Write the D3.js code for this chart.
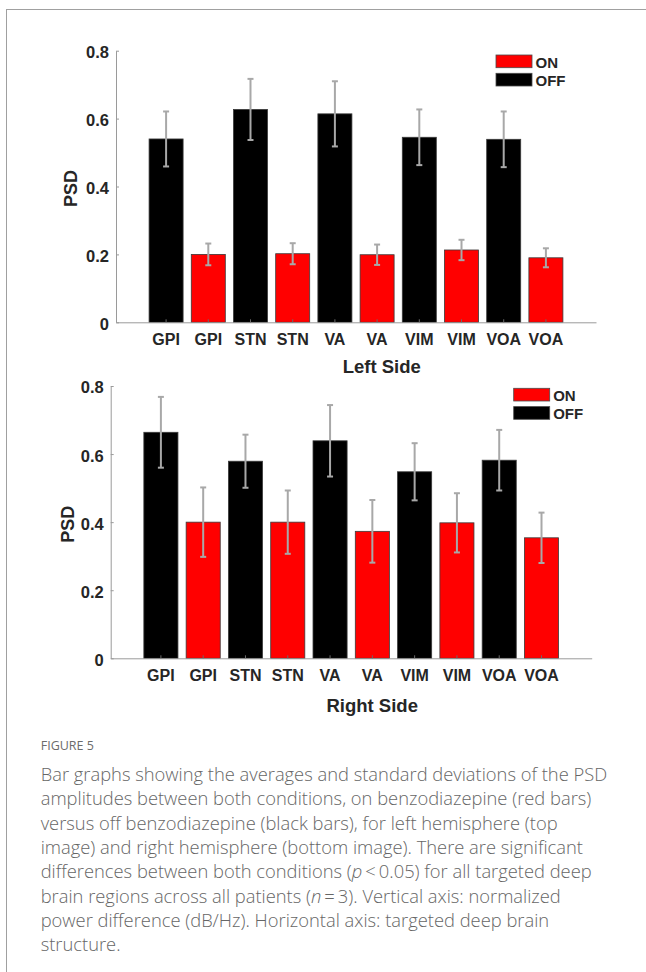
<!DOCTYPE html>
<html>
<head>
<meta charset="utf-8">
<script src="https://cdn.jsdelivr.net/npm/d3@7"></script>
<style>
  html, body { margin: 0; padding: 0; background: #fff; }
  svg { display: block; }
</style>
</head>
<body>
<script>
// ---------------- DATA ----------------
const categories = ["GPI","GPI","STN","STN","VA","VA","VIM","VIM","VOA","VOA"];
const conditions = ["OFF","ON","OFF","ON","OFF","ON","OFF","ON","OFF","ON"];
const leftMean  = [0.540, 0.200, 0.627, 0.202, 0.614, 0.199, 0.545, 0.213, 0.539, 0.190];
const leftSD    = [0.081, 0.032, 0.090, 0.031, 0.096, 0.030, 0.082, 0.030, 0.082, 0.028];
const rightMean = [0.664, 0.400, 0.579, 0.400, 0.639, 0.373, 0.548, 0.398, 0.582, 0.354];
const rightSD   = [0.104, 0.102, 0.078, 0.093, 0.105, 0.092, 0.084, 0.087, 0.089, 0.074];
const yTicks = [0, 0.2, 0.4, 0.6, 0.8];
const yTickLabels = ["0", "0.2", "0.4", "0.6", "0.8"];
const legendLabels = ["ON", "OFF"];
const panelTitles = ["Left Side", "Right Side"];
const yLabel = "PSD";
const figureLabel = "FIGURE 5";
const captionLines = [
  ["Bar graphs showing the averages and standard deviations of the PSD"],
  ["amplitudes between both conditions, on benzodiazepine (red bars)"],
  ["versus off benzodiazepine (black bars), for left hemisphere (top"],
  ["image) and right hemisphere (bottom image). There are significant"],
  ["differences between both conditions (", {i:"p"}, "\u2009<\u20090.05) for all targeted deep"],
  ["brain regions across all patients (", {i:"n"}, "\u2009=\u20093). Vertical axis: normalized"],
  ["power difference (dB/Hz). Horizontal axis: targeted deep brain"],
  ["structure."]
];

// ---------------- STYLE ----------------
const W = 646, H = 972;
const colors = { ON: "#ff0000", OFF: "#000000" };
const chartFont = "'Liberation Sans', Arial, Helvetica, sans-serif";
const textCol = "#262626";
const axisCol = "#9a9a9a";
const errCol = "#a8a8a8";

const svg = d3.select("body").append("svg").attr("width", W).attr("height", H);

// page frame
svg.append("line").attr("x1", 6).attr("x2", W).attr("y1", 9.5).attr("y2", 9.5)
  .attr("stroke", "#a0a0a0").attr("stroke-width", 1);
svg.append("line").attr("x1", 6.5).attr("x2", 6.5).attr("y1", 9).attr("y2", H)
  .attr("stroke", "#a0a0a0").attr("stroke-width", 1);

const panels = [
  { mean: leftMean, sd: leftSD, title: panelTitles[0], x0: 116, x1: 596, y0: 322.3, y1: 50.7,
    titleX: 381.7, titleY: 373.3, ylabX: 77, legX: 496, legY: 55 },
  { mean: rightMean, sd: rightSD, title: panelTitles[1], x0: 110.7, x1: 591.7, y0: 658.3, y1: 386,
    titleX: 372.2, titleY: 712, ylabX: 73.5, legX: 513.7, legY: 388.3 }
];

panels.forEach(p => {
  const g = svg.append("g");
  const x = d3.scaleBand().domain(d3.range(categories.length))
    .range([p.x0, p.x1]).paddingInner(0.194).paddingOuter(0.784);
  const y = d3.scaleLinear().domain([0, 0.8]).range([p.y0, p.y1]);

  // bars
  g.selectAll("rect.bar").data(p.mean).join("rect")
    .attr("class", "bar")
    .attr("x", (d, i) => x(i))
    .attr("width", x.bandwidth())
    .attr("y", d => y(d))
    .attr("height", d => y(0) - y(d))
    .attr("fill", (d, i) => colors[conditions[i]])
    .attr("stroke", "#3a3a3a").attr("stroke-width", 0.8);

  // x axis
  const xAxis = d3.axisBottom(x).tickFormat(i => categories[i])
    .tickSizeInner(-3).tickSizeOuter(0).tickPadding(11);
  const gx = g.append("g").attr("transform", `translate(0,${y(0)})`).call(xAxis);
  gx.select(".domain").attr("stroke", axisCol).attr("stroke-width", 1);
  gx.selectAll(".tick line").attr("stroke", "#6a6a6a");
  gx.selectAll("text").attr("font-family", chartFont).attr("font-weight", "bold")
    .attr("font-size", 16).attr("fill", textCol);

  // y axis
  const yAxis = d3.axisLeft(y).tickValues(yTicks).tickFormat((d, i) => yTickLabels[i])
    .tickSizeInner(-3).tickSizeOuter(0).tickPadding(7);
  const gy = g.append("g").attr("transform", `translate(${p.x0},0)`).call(yAxis);
  gy.select(".domain").attr("stroke", axisCol).attr("stroke-width", 1);
  gy.selectAll(".tick line").attr("stroke", axisCol);
  gy.selectAll("text").attr("font-family", chartFont).attr("font-weight", "bold")
    .attr("font-size", 16.5).attr("fill", textCol).attr("dy", "0.42em");

  // error bars
  const eb = g.selectAll("g.err").data(p.mean).join("g").attr("class", "err");
  const cx = i => x(i) + x.bandwidth() / 2;
  eb.append("line")
    .attr("x1", (d, i) => cx(i)).attr("x2", (d, i) => cx(i))
    .attr("y1", (d, i) => y(d - p.sd[i])).attr("y2", (d, i) => y(d + p.sd[i]))
    .attr("stroke", errCol).attr("stroke-width", 2);
  [-1, 1].forEach(s => {
    eb.append("line")
      .attr("x1", (d, i) => cx(i) - 3).attr("x2", (d, i) => cx(i) + 3)
      .attr("y1", (d, i) => y(d + s * p.sd[i])).attr("y2", (d, i) => y(d + s * p.sd[i]))
      .attr("stroke", errCol).attr("stroke-width", 2);
  });

  // axis labels
  g.append("text").attr("x", p.titleX).attr("y", p.titleY).attr("text-anchor", "middle")
    .attr("font-family", chartFont).attr("font-weight", "bold").attr("font-size", 18.5)
    .attr("fill", textCol).text(p.title);
  const yMid = (p.y0 + p.y1) / 2 + 2;
  g.append("text").attr("transform", `translate(${p.ylabX},${yMid}) rotate(-90)`)
    .attr("text-anchor", "middle")
    .attr("font-family", chartFont).attr("font-weight", "bold").attr("font-size", 18)
    .attr("fill", textCol).text(yLabel);

  // legend
  const leg = g.append("g");
  legendLabels.forEach((lab, k) => {
    const ly = p.legY + k * 18.3;
    leg.append("rect").attr("x", p.legX).attr("y", ly).attr("width", 36).attr("height", 12.7)
      .attr("fill", colors[lab]).attr("stroke", "#4a4a4a").attr("stroke-width", 0.8);
    leg.append("text").attr("x", p.legX + 39.5).attr("y", ly + 12.5)
      .attr("font-family", chartFont).attr("font-weight", "bold").attr("font-size", 15)
      .attr("fill", textCol).text(lab);
  });
});

// ---------------- CAPTION ----------------
const capFont = "'Open Sans', 'Noto Sans', sans-serif";
svg.append("text").attr("x", 40.7).attr("y", 750)
  .attr("font-family", capFont).attr("font-size", 12.5).attr("font-weight", 400)
  .attr("fill", "#6b6b6b").text(figureLabel);

const cap = svg.append("g");
const lineEls = captionLines.map((parts, li) => {
  const t = cap.append("text").attr("x", 40.7).attr("y", 781 + li * 24.3)
    .attr("font-family", capFont).attr("font-weight", 300)
    .attr("fill", "#666666");
  parts.forEach(pt => {
    if (typeof pt === "string") t.append("tspan").text(pt);
    else t.append("tspan").attr("font-style", "italic").text(pt.i);
  });
  return t;
});
// fit font size so that the first line spans the reference width
let fs = 16.5;
lineEls.forEach(t => t.attr("font-size", fs));
const w0 = lineEls[0].node().getComputedTextLength();
fs = fs * 567 / w0;
lineEls.forEach(t => t.attr("font-size", fs));
</script>
</body>
</html>
